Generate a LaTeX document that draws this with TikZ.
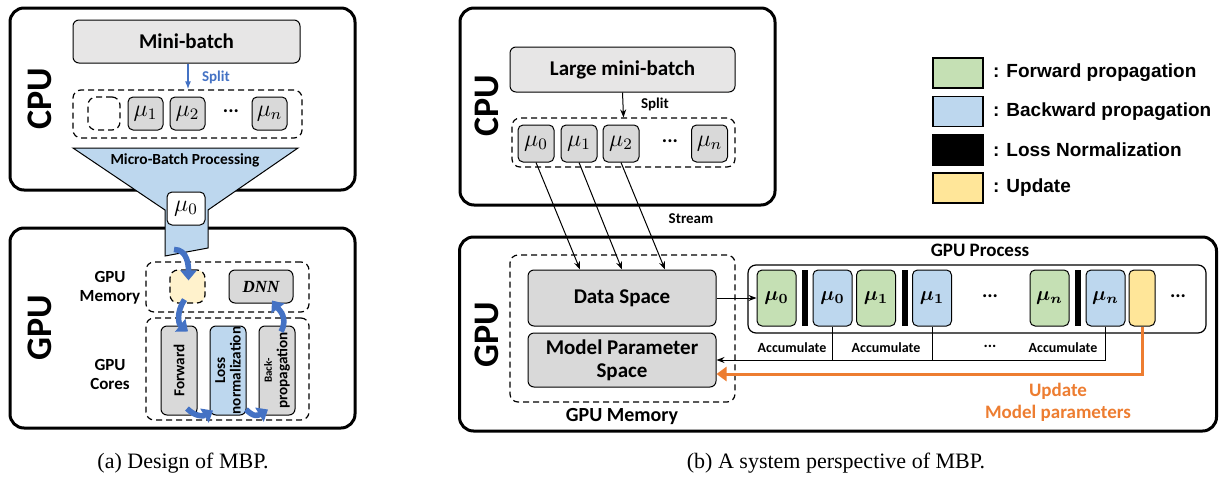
\documentclass[tikz,border=0pt]{standalone}
\usepackage{fontspec}
\usepackage{amsmath,bm}
\usepackage{tikz}
\usetikzlibrary{arrows.meta,positioning,calc}
\newfontfamily\calibri{Carlito}
\newfontfamily\arialfont{Liberation Sans}
\newfontfamily\timesfont{Liberation Serif}
\definecolor{boxgray}{HTML}{D9D9D9}
\definecolor{batchgray}{HTML}{E7E6E6}
\definecolor{fwdgreen}{HTML}{C5E0B4}
\definecolor{bwdblue}{HTML}{BDD7EE}
\definecolor{updyellow}{HTML}{FFE699}
\definecolor{bufyellow}{HTML}{FFF2CC}
\definecolor{flowblue}{HTML}{4472C4}
\definecolor{updorange}{HTML}{ED7D31}

\begin{document}
\begin{tikzpicture}[
    x=0.5pt, y=-0.5pt,
    outer/.style={draw, line width=1.5pt, rounded corners=7pt, inner sep=0pt},
    group/.style={draw, line width=0.6pt, dash pattern=on 3pt off 2pt, rounded corners=4pt, inner sep=0pt},
    blk/.style={draw, fill=boxgray, rounded corners=3pt, line width=0.5pt, inner sep=0pt, align=center, font=\calibri\bfseries\fontsize{10.5}{11.5}\selectfont},
    mu/.style={draw, fill=boxgray, rounded corners=2.5pt, line width=0.5pt, inner sep=0pt, minimum width=17.5pt, minimum height=16.5pt, font=\fontsize{12}{14}\selectfont},
    core/.style={blk, rotate=90, minimum width=44.5pt, minimum height=18pt, font=\calibri\bfseries\fontsize{7.6}{7.8}\selectfont},
    pass/.style={draw, rounded corners=2.5pt, line width=0.5pt, inner sep=0pt, minimum width=19.5pt, minimum height=28pt, font=\fontsize{10}{12}\selectfont},
    fwdpass/.style={pass, fill=fwdgreen},
    bwdpass/.style={pass, fill=bwdblue},
    lossbar/.style={fill=black, inner sep=0pt, minimum width=3pt, minimum height=28pt},
    unitlabel/.style={rotate=90, font=\calibri\bfseries\fontsize{18}{18}\selectfont},
    lbl/.style={align=center, font=\calibri\bfseries\fontsize{7}{8.5}\selectfont},
    dots/.style={font=\calibri\bfseries\fontsize{10}{12}\selectfont},
    flow/.style={flowblue, line width=2.8pt, -{Triangle[width=8pt,length=5pt]}},
    stream/.style={line width=0.5pt, -{Stealth[length=4pt,width=3pt]}},
    legendbox/.style={draw, line width=0.6pt, inner sep=0pt, minimum width=25pt, minimum height=15pt},
    legendtext/.style={anchor=west, font=\arialfont\bfseries\fontsize{9.5}{10}\selectfont}
]
    \useasboundingbox (0,0) rectangle (1219,482);

    % (a) Design of MBP
    \node[outer, minimum width=172.5pt, minimum height=91pt] (cpuA) at (182.5,99) {};
    \node[outer, minimum width=172.5pt, minimum height=100pt] (gpuA) at (182.5,328) {};
    \node[unitlabel] (cpuAlbl) at (40,99) {CPU};
    \node[unitlabel] (gpuAlbl) at (40,328) {GPU};

    \node[blk, fill=batchgray, minimum width=113.5pt, minimum height=21.5pt] (batchA) at (186.5,41.5) {Mini-batch};
    \node[group, minimum width=114.5pt, minimum height=24pt] (slotsA) at (187.5,114) {};
    \draw[flowblue, line width=1.2pt, -{Latex[length=4pt]}] (batchA.south -| 188,0) -- (slotsA.north -| 188,0);
    \node[anchor=west, text=flowblue, font=\calibri\bfseries\fontsize{7.5}{8}\selectfont] (splitA) at (195,77) {Split};

    \node[group, minimum width=16pt, minimum height=16.5pt] (emptyA) at (104,113.5) {};
    \foreach \x/\k in {145.5/1, 187.5/2, 269.5/n} {
        \node[mu] (a\k) at (\x,113.5) {$\mu_\k$};
    }
    \node[dots] (dotsA) at (231,111) {...};

    % funnel into the GPU
    \draw[fill=bwdblue, line width=0.5pt] (73,148) -- (298,148) -- (208,210) -- (208,248) -- (165,256) -- (165,210) -- cycle;
    \node[lbl, font=\calibri\bfseries\fontsize{7.7}{9}\selectfont] (mbp) at (185,160) {Micro-Batch Processing};
    \node[mu, fill=white, minimum width=19pt] (mu0A) at (186,208.5) {$\mu_0$};

    \node[lbl, font=\calibri\bfseries\fontsize{8.5}{9.5}\selectfont] (memAlbl) at (110,288) {GPU\\Memory};
    \node[lbl, font=\calibri\bfseries\fontsize{8.5}{9.5}\selectfont] (coreAlbl) at (110,374) {GPU\\Cores};
    \node[group, minimum width=81.5pt, minimum height=25pt] (memA) at (227.5,287) {};
    \node[group, minimum width=81.5pt, minimum height=51pt] (coresA) at (227.5,369) {};
    \node[group, fill=bufyellow, minimum width=17.5pt, minimum height=16.5pt] (buf) at (187.5,286.5) {};
    \node[blk, minimum width=32pt, minimum height=16.5pt, font=\timesfont\bfseries\itshape\fontsize{8.5}{9}\selectfont] (dnn) at (261,286.5) {DNN};

    \node[core] (fwd) at (179,370.5) {Forward};
    \node[core, fill=bwdblue] (loss) at (228,370.5) {Loss\\normalization};
    \node[core] (bp) at (277,370.5) {{\fontsize{5.5}{6}\selectfont Back-}\\propagation};

    \draw[flow] ($(mu0A.south)+(-12,24)$) .. controls +(14,0) and +(0,-14) .. ($(buf.north)+(1,11)$);
    \draw[flow] ($(buf.south)+(-3,-4)$) .. controls +(-8,12) and +(-10,-8) .. ($(fwd.east)+(9,6)$);
    \draw[flow] ($(fwd.west)+(8,-7)$) .. controls +(8,8) and +(-10,6) .. ($(loss.west)+(-15,-5)$);
    \draw[flow] ($(loss.west)+(18,-6)$) .. controls +(8,8) and +(-10,6) .. ($(bp.west)+(-9,-6)$);
    \draw[flow] ($(bp.east)+(4,6)$) .. controls +(8,-14) and +(6,8) .. ($(dnn.south)+(11,-3)$);

    % (b) A system perspective of MBP
    \node[outer, minimum width=157.5pt, minimum height=98.5pt] (cpuB) at (617.5,106.5) {};
    \node[outer, minimum width=378.5pt, minimum height=97pt] (gpuB) at (838,334) {};
    \node[unitlabel] (cpuBlbl) at (487,106) {CPU};
    \node[unitlabel] (gpuBlbl) at (487,335) {GPU};

    \node[blk, fill=batchgray, minimum width=112.5pt, minimum height=22.5pt] (batchB) at (622.5,69.5) {Large mini-batch};
    \node[group, minimum width=111.5pt, minimum height=24.5pt] (slotsB) at (623.5,142.5) {};
    \draw[line width=0.5pt, -{Stealth[length=4pt,width=3pt]}] (batchB.south) -- (slotsB.north);
    \node[lbl, anchor=west, font=\calibri\bfseries\fontsize{7.5}{8.5}\selectfont] (splitB) at (634,104) {Split};
    \foreach \x/\k in {536/0, 579/1, 621/2, 709.5/n} {
        \node[mu, minimum width=18pt, minimum height=18.5pt] (m\k) at (\x,143.5) {$\mu_\k$};
    }
    \node[dots] (dotsB) at (670,141) {...};

    \node[group, minimum width=112.5pt, minimum height=73.5pt] (memB) at (622.5,328.5) {};
    \node[font=\calibri\bfseries\fontsize{10}{12}\selectfont] (memBlbl) at (622,417) {GPU Memory};
    \node[blk, minimum width=94pt, minimum height=28pt] (data) at (622,298) {Data Space};
    \node[blk, minimum width=94pt, minimum height=27pt] (param) at (622,360) {Model Parameter\\Space};

    \foreach \k/\dx in {0/-42, 1/0, 2/43} {
        \draw[stream] (m\k.south) -- ($(data.north)+(\dx,0)$);
    }
    \node[lbl, font=\calibri\bfseries\fontsize{7.5}{8.5}\selectfont] (stream) at (691,219) {Stream};

    \node[font=\calibri\bfseries\fontsize{9.5}{11}\selectfont] (proclbl) at (980,250) {GPU Process};
    \node[draw, line width=0.6pt, rounded corners=4pt, inner sep=0pt, minimum width=229pt, minimum height=34pt] (proc) at (977,299) {};
    \foreach \x/\k in {776.5/0, 876/1, 1049.5/n} {
        \node[fwdpass] (g\k) at (\x,298) {$\bm{\mu_\k}$};
        \node[lossbar] (l\k) at (\x+28.5,298) {};
        \node[bwdpass] (b\k) at (\x+56,298) {$\bm{\mu_\k}$};
    }
    \node[pass, fill=updyellow, minimum width=13pt] (upd) at (1142,298) {};
    \node[dots] (dotsP) at (990,296) {...};
    \node[dots] (dotsQ) at (1178,296) {...};

    \draw[stream] (data.east) -- (g0.west);

    % accumulate gradients
    \draw[stream] (bn.south) |- (param.east);
    \draw[line width=0.5pt] (b0.south) -- (b0.south |- param.east);
    \draw[line width=0.5pt] (b1.south) -- (b1.south |- param.east);
    \foreach \x in {792, 886, 1063} {
        \node[lbl] (acc\x) at (\x,348) {Accumulate};
    }
    \node[lbl, font=\calibri\bfseries\fontsize{8}{9}\selectfont] (dotsAcc) at (990,346) {...};

    % update
    \draw[updorange, line width=1.5pt, -{Triangle[width=7pt,length=5pt]}] (upd.south) |- ($(param.east)+(0,14)$);
    \node[align=center, text=updorange, font=\calibri\bfseries\fontsize{9.5}{11}\selectfont] (updlbl) at (1058,402) {Update\\Model parameters};

    % legend
    \foreach \y/\col/\txt [count=\i] in {73/fwdgreen/Forward propagation, 111.5/bwdblue/Backward propagation, 150/black/Loss Normalization, 188/updyellow/Update} {
        \node[legendbox, fill=\col] (leg\i) at (958,\y) {};
        \node[legendtext] (legtxt\i) at (986,\y) {: \txt};
    }

    % captions
    \node[font=\timesfont\fontsize{11}{13}\selectfont] (capA) at (183,463) {(a) Design of MBP.};
    \node[font=\timesfont\fontsize{11}{13}\selectfont] (capB) at (836,463) {(b) A system perspective of MBP.};
\end{tikzpicture}
\end{document}
